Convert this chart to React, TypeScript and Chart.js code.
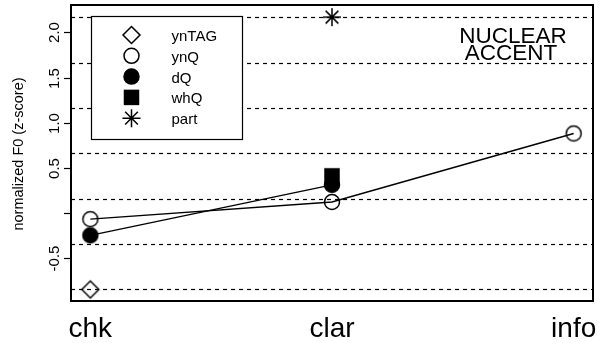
import React, { useEffect, useRef } from "react";
import { Chart, registerables } from "chart.js";

Chart.register(...registerables);

// ---- data ----
const categories = ["chk", "clar", "info"];
const ynTAG = [-0.85, null, null];
const ynQ = [-0.07, 0.12, 0.88];
const dQ = [-0.25, 0.31, null];
const whQ = [null, 0.41, null];
const part = [null, 2.17, null];
const yTickValues = [-0.5, 0, 0.5, 1.0, 1.5, 2.0];
const yTickLabels = ["-0.5", "", "0.5", "1.0", "1.5", "2.0"];
const refLines = [-0.85, -0.345, 0.155, 0.66, 1.165, 1.665, 2.17];
const legendLabels = ["ynTAG", "ynQ", "dQ", "whQ", "part"];
const yTitle = "normalized F0 (z-score)";
const annotation = ["NUCLEAR", "ACCENT"];

const FONT = '"Liberation Sans", Arial, Helvetica, sans-serif';

const toPoints = (arr: (number | null)[]) =>
  arr
    .map((v, i) => (v === null ? null : { x: i + 1, y: v }))
    .filter((p) => p !== null) as { x: number; y: number }[];

function drawSymbol(ctx: CanvasRenderingContext2D, kind: number, x: number, y: number) {
  ctx.save();
  ctx.strokeStyle = "#000";
  ctx.fillStyle = "#000";
  ctx.lineWidth = 1.5;
  ctx.beginPath();
  if (kind === 0) {
    const r = 8.5;
    ctx.moveTo(x - r, y);
    ctx.lineTo(x, y - r);
    ctx.lineTo(x + r, y);
    ctx.lineTo(x, y + r);
    ctx.closePath();
    ctx.stroke();
  } else if (kind === 1) {
    ctx.arc(x, y, 7.5, 0, Math.PI * 2);
    ctx.stroke();
  } else if (kind === 2) {
    ctx.arc(x, y, 7.5, 0, Math.PI * 2);
    ctx.fill();
    ctx.stroke();
  } else if (kind === 3) {
    ctx.rect(x - 7.75, y - 7.75, 15.5, 15.5);
    ctx.fill();
  } else {
    const r = 9;
    const d = r * Math.SQRT1_2;
    ctx.moveTo(x, y - r);
    ctx.lineTo(x, y + r);
    ctx.moveTo(x - r, y);
    ctx.lineTo(x + r, y);
    ctx.moveTo(x - d, y - d);
    ctx.lineTo(x + d, y + d);
    ctx.moveTo(x - d, y + d);
    ctx.lineTo(x + d, y - d);
    ctx.stroke();
  }
  ctx.restore();
}

function makeSymbol(kind: number): HTMLCanvasElement {
  const c = document.createElement("canvas");
  c.width = 30;
  c.height = 30;
  const cx = c.getContext("2d");
  if (cx) drawSymbol(cx, kind, 15, 15);
  return c;
}

const overlay = {
  id: "overlay",
  beforeDatasetsDraw(chart: any) {
    const { ctx, chartArea: a, scales } = chart;
    const y = scales.y;
    ctx.save();
    ctx.strokeStyle = "#000";
    ctx.lineWidth = 1.2;
    ctx.setLineDash([4, 4]);
    refLines.forEach((v) => {
      const py = Math.round(y.getPixelForValue(v)) + 0.5;
      ctx.beginPath();
      ctx.moveTo(a.left, py);
      ctx.lineTo(a.right, py);
      ctx.stroke();
    });
    ctx.setLineDash([]);
    // legend box
    ctx.fillStyle = "#fff";
    ctx.fillRect(91, 16, 152, 124);
    ctx.lineWidth = 1.2;
    ctx.strokeRect(91.5, 16.5, 151, 123);
    ctx.fillStyle = "#000";
    ctx.font = `15px ${FONT}`;
    ctx.textAlign = "left";
    ctx.textBaseline = "alphabetic";
    legendLabels.forEach((lab, i) => {
      const cy = 35 + i * 20.8;
      drawSymbol(ctx, i, 131.5, cy);
      ctx.fillText(lab, 171.5, cy + 6);
    });
    ctx.restore();
  },
  afterDraw(chart: any) {
    const { ctx, chartArea: a, scales } = chart;
    const x = scales.x;
    const y = scales.y;
    const L = Math.round(a.left);
    const R = Math.round(a.right);
    const T = Math.round(a.top);
    const B = Math.round(a.bottom);
    ctx.save();
    ctx.fillStyle = "#000";
    ctx.strokeStyle = "#000";
    // plot frame as filled strips
    ctx.fillRect(L - 1, T - 1, R - L + 2, 2);
    ctx.fillRect(L - 1, B - 1, R - L + 2, 2);
    ctx.fillRect(L - 1, T - 1, 2, B - T + 2);
    ctx.fillRect(R - 1, T - 1, 2, B - T + 2);
    // y ticks
    ctx.lineWidth = 1.2;
    ctx.font = `15px ${FONT}`;
    ctx.textAlign = "center";
    ctx.textBaseline = "alphabetic";
    yTickValues.forEach((v, i) => {
      const py = Math.round(y.getPixelForValue(v)) + 0.5;
      ctx.beginPath();
      ctx.moveTo(L - 7, py);
      ctx.lineTo(L, py);
      ctx.stroke();
      ctx.save();
      ctx.translate(58.5, py);
      ctx.rotate(-Math.PI / 2);
      ctx.fillText(yTickLabels[i], 0, 0);
      ctx.restore();
    });
    // y title
    ctx.save();
    ctx.font = `14.5px ${FONT}`;
    ctx.translate(23, 154);
    ctx.rotate(-Math.PI / 2);
    ctx.fillText(yTitle, 0, 0);
    ctx.restore();
    // x labels
    ctx.font = `28px ${FONT}`;
    categories.forEach((c, i) => {
      ctx.fillText(c, x.getPixelForValue(i + 1), 337);
    });
    // annotation
    ctx.font = `22.5px ${FONT}`;
    ctx.fillText(annotation[0], 513, 43);
    ctx.fillText(annotation[1], 511, 60);
    ctx.restore();
  },
};

export default function App() {
  const ref = useRef<HTMLCanvasElement | null>(null);
  useEffect(() => {
    if (!ref.current) return;
    const common = {
      borderColor: "#000",
      borderWidth: 1.4,
      pointRadius: 2,
      pointHoverRadius: 2,
      pointBorderWidth: 0,
    };
    const chart = new Chart(ref.current, {
      type: "line",
      data: {
        datasets: [
          { label: "ynTAG", data: toPoints(ynTAG), showLine: false, pointStyle: makeSymbol(0), ...common },
          { label: "ynQ", data: toPoints(ynQ), showLine: true, pointStyle: makeSymbol(1), ...common },
          { label: "dQ", data: toPoints(dQ), showLine: true, pointStyle: makeSymbol(2), ...common },
          { label: "whQ", data: toPoints(whQ), showLine: false, pointStyle: makeSymbol(3), ...common },
          { label: "part", data: toPoints(part), showLine: false, pointStyle: makeSymbol(4), ...common },
        ],
      } as any,
      options: {
        responsive: false,
        animation: false,
        events: [],
        layout: { padding: { left: 71, right: 7, top: 5, bottom: 42 } },
        plugins: { legend: { display: false }, tooltip: { enabled: false } },
        scales: {
          x: { type: "linear", min: 0.92, max: 3.08, display: false },
          y: { type: "linear", min: -0.978, max: 2.305, display: false },
        },
      },
      plugins: [overlay],
    } as any);
    return () => chart.destroy();
  }, []);
  return (
    <div style={{ position: "fixed", left: 0, top: 0, width: 600, height: 343, background: "#fff" }}>
      <canvas ref={ref} width={600} height={343} />
    </div>
  );
}
